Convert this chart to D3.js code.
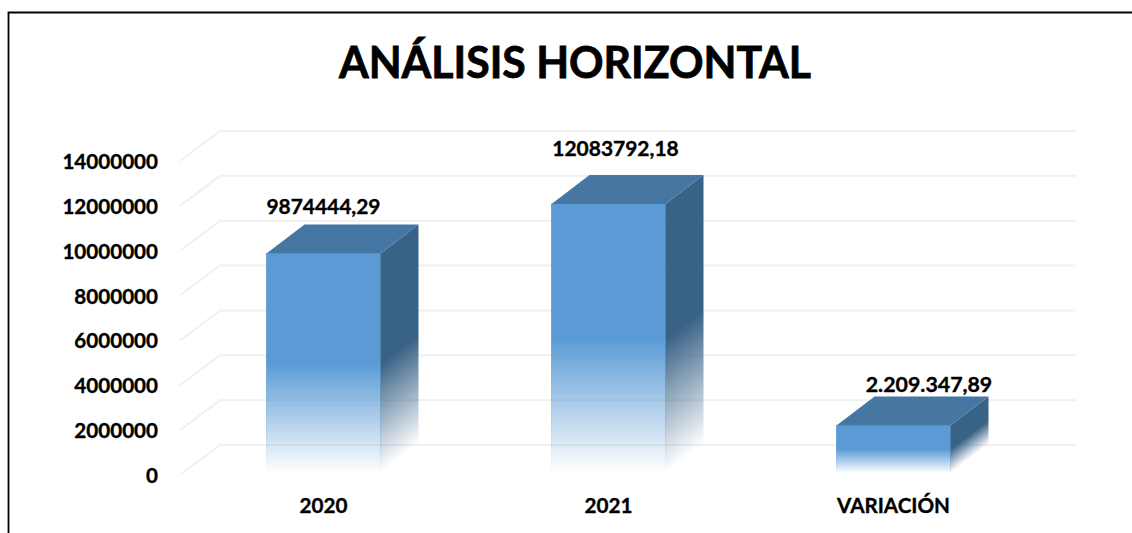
<!DOCTYPE html>
<html><head><meta charset="utf-8">
<script src="https://cdn.jsdelivr.net/npm/d3@7"></script>
<style>html,body{margin:0;background:#fff}svg{display:block}text{font-family:Lato,"Open Sans",sans-serif;font-weight:700;fill:#000;stroke:#000;stroke-width:.35px}</style>
</head><body><div id="c"></div>
<script>
const categories = ["2020", "2021", "VARIACIÓN"];
const values = [9874444.29, 12083792.18, 2209347.89];
const valueLabels = ["9874444,29", "12083792,18", "2.209.347,89"];
const yTicks = [0, 2000000, 4000000, 6000000, 8000000, 10000000, 12000000, 14000000];
const titleText = "ANÁLISIS HORIZONTAL";

const W = 1132, H = 533;
const depth = {x: 38, y: 29};
const gridDepth = {x: 40, y: 30};
const svg = d3.select("#c").append("svg").attr("width", W).attr("height", H);
const defs = svg.append("defs");
const y = d3.scaleLinear().domain([0, 14000000]).range([475, 161]);
const x = d3.scaleBand().domain(categories).range([181, 1036]).paddingInner(0.6).paddingOuter(0.3);
const barW = 114;
const fs = 20.5;
const cx = c => x(c) + x.bandwidth() / 2;

// frame
svg.append("path").attr("d", `M8.5,${H}V12.5H${W}`).attr("fill", "none").attr("stroke", "#000").attr("stroke-width", 1.8);

// title
svg.append("text").attr("x", 575).attr("y", 78).attr("text-anchor", "middle").attr("font-size", 44.5)
  .style("stroke-width", "0.8px")
  .attr("textLength", 472).attr("lengthAdjust", "spacingAndGlyphs").text(titleText);

// gridlines
const grid = svg.append("g");
yTicks.forEach(t => {
  grid.append("path")
    .attr("d", `M180,${y(t)}L${180 + gridDepth.x},${y(t) - gridDepth.y}H1076`)
    .attr("fill", "none").attr("stroke", "#f0f0f0").attr("stroke-width", 2);
});

// y axis
svg.append("g").selectAll("text").data(yTicks).join("text")
  .attr("x", 158).attr("y", d => y(d) + 8).attr("text-anchor", "end").attr("font-size", fs)
  .attr("textLength", d => String(d).length * 11.95).attr("lengthAdjust", "spacingAndGlyphs")
  .text(d => String(d));

// bars
const stopsFront = [[0, 1], [0.5, 1], [1, 0]];
const norm = Math.hypot(depth.x, depth.y);
const catWidth = c => c.length > 4 ? 113 : 48;
const labelWidth = s => s.length > 10 ? 126.5 : 114;
categories.forEach((c, i) => {
  const v = values[i], xc = cx(c), x0 = xc - barW / 2, x1 = xc + barW / 2, yt = y(v), yb = y(0) - 2;
  const gf = defs.append("linearGradient").attr("id", "f" + i).attr("x1", 0).attr("y1", 0).attr("x2", 0).attr("y2", 1);
  stopsFront.forEach(s => gf.append("stop").attr("offset", s[0]).attr("stop-color", "#5b9bd5").attr("stop-opacity", s[1]));
  const nx = depth.y / norm, ny = depth.x / norm, L = (yb - yt) * ny;
  const gs = defs.append("linearGradient").attr("id", "s" + i).attr("gradientUnits", "userSpaceOnUse")
    .attr("x1", x1).attr("y1", yt).attr("x2", x1 + nx * L).attr("y2", yt + ny * L);
  stopsFront.forEach(s => gs.append("stop").attr("offset", s[0]).attr("stop-color", "#386286").attr("stop-opacity", s[1]));
  const g = svg.append("g");
  g.append("rect").attr("x", x0).attr("y", yt).attr("width", barW).attr("height", yb - yt)
    .attr("fill", `url(#f${i})`).attr("stroke", `url(#f${i})`).attr("stroke-width", 0.8);
  g.append("path").attr("d", `M${x1},${yt}l${depth.x},${-depth.y}V${yb - depth.y}L${x1},${yb}Z`).attr("fill", `url(#s${i})`);
  g.append("path").attr("d", `M${x0},${yt}l${depth.x},${-depth.y}H${x1 + depth.x}L${x1},${yt}Z`).attr("fill", "#4677a3");
  // value labels sit at different offsets in the source chart
  const dx = i === 0 ? 0 : i === 1 ? 7 : 35.5;
  const dy = i === 0 ? -40 : i === 1 ? -47.5 : -33.5;
  svg.append("text").attr("x", xc + dx).attr("y", yt + dy)
    .attr("text-anchor", "middle").attr("font-size", fs)
    .attr("textLength", labelWidth(valueLabels[i])).attr("lengthAdjust", "spacingAndGlyphs").text(valueLabels[i]);
  svg.append("text").attr("x", xc).attr("y", 513).attr("text-anchor", "middle").attr("font-size", fs)
    .attr("textLength", catWidth(c)).attr("lengthAdjust", "spacingAndGlyphs").text(c);
});
</script></body></html>
